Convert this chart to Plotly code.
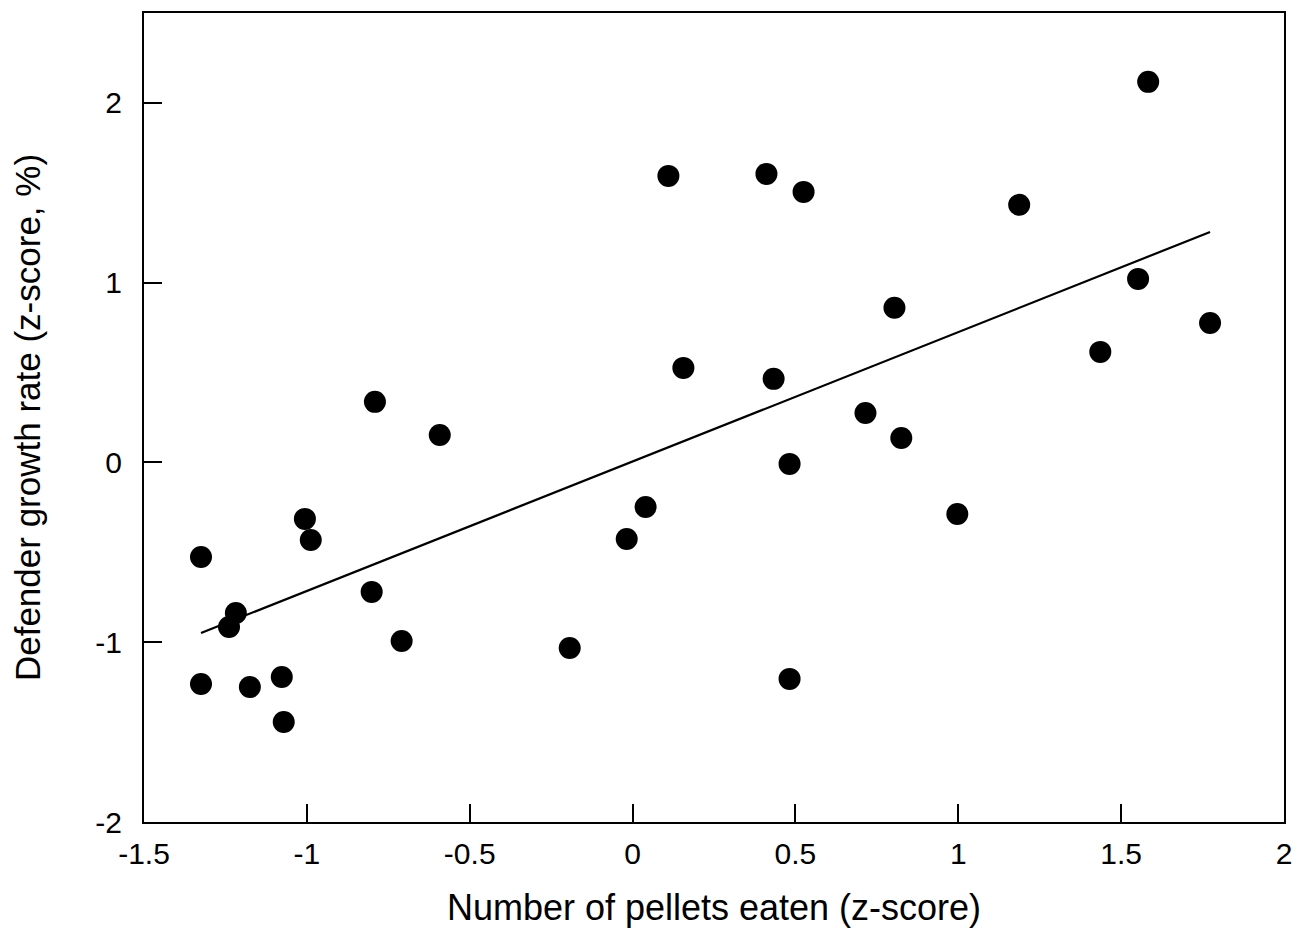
import plotly.graph_objects as go

# Data
pellets_z = [-1.325, -1.325, -1.239, -1.218, -1.175, -1.077, -1.071, -1.006, -0.988,
             -0.791, -0.801, -0.709, -0.592, -0.193, -0.018, 0.040, 0.110, 0.156,
             0.411, 0.433, 0.525, 0.482, 0.482, 0.715, 0.804, 0.825, 0.997, 1.187,
             1.436, 1.552, 1.583, 1.773]
growth_z = [-0.526, -1.232, -0.915, -0.837, -1.249, -1.193, -1.444, -0.314, -0.431,
            0.337, -0.720, -0.993, 0.153, -1.032, -0.426, -0.248, 1.594, 0.526,
            1.605, 0.465, 1.505, -0.008, -1.204, 0.275, 0.860, 0.136, -0.287, 1.433,
            0.615, 1.021, 2.117, 0.776]

fit_x = [-1.325, 1.773]
fit_y = [-0.949, 1.282]

x_ticks = [-1.5, -1, -0.5, 0, 0.5, 1, 1.5, 2]
x_tick_text = ["-1.5", "-1", "-0.5", "0", "0.5", "1", "1.5", "2"]
y_ticks = [-2, -1, 0, 1, 2]
y_tick_text = ["-2", "-1", "0", "1", "2"]

font_family = "Liberation Sans, Arial, Helvetica, sans-serif"

fig = go.Figure()
fig.add_trace(go.Scatter(
    x=fit_x, y=fit_y, mode="lines",
    line=dict(color="black", width=2.2),
    showlegend=False, hoverinfo="skip"))
fig.add_trace(go.Scatter(
    x=pellets_z, y=growth_z, mode="markers",
    marker=dict(color="black", size=22, line=dict(width=0)),
    showlegend=False))

axis_common = dict(
    showline=True, linecolor="black", linewidth=2, mirror=True,
    ticks="inside", ticklen=18, tickwidth=1.5, tickcolor="black",
    showgrid=False, zeroline=False,
    tickfont=dict(family=font_family, size=30, color="black"),
)

fig.update_xaxes(
    range=[-1.5, 2], tickvals=x_ticks, ticktext=x_tick_text,
    title=dict(text="Number of pellets eaten (z-score)",
               font=dict(family=font_family, size=36, color="black"),
               standoff=26),
    ticklabelstandoff=4,
    **axis_common)
fig.update_yaxes(
    range=[-2, 2.5], tickvals=y_ticks, ticktext=y_tick_text,
    title=dict(text="Defender growth rate (z-score, %)",
               font=dict(family=font_family, size=35, color="black"),
               standoff=52),
    ticklabelstandoff=14,
    **axis_common)

fig.update_layout(
    width=1295, height=928,
    margin=dict(l=136, r=19, t=5, b=114, autoexpand=False),
    plot_bgcolor="white", paper_bgcolor="white",
    font=dict(family=font_family, color="black"),
)

fig.write_html("out.html")
